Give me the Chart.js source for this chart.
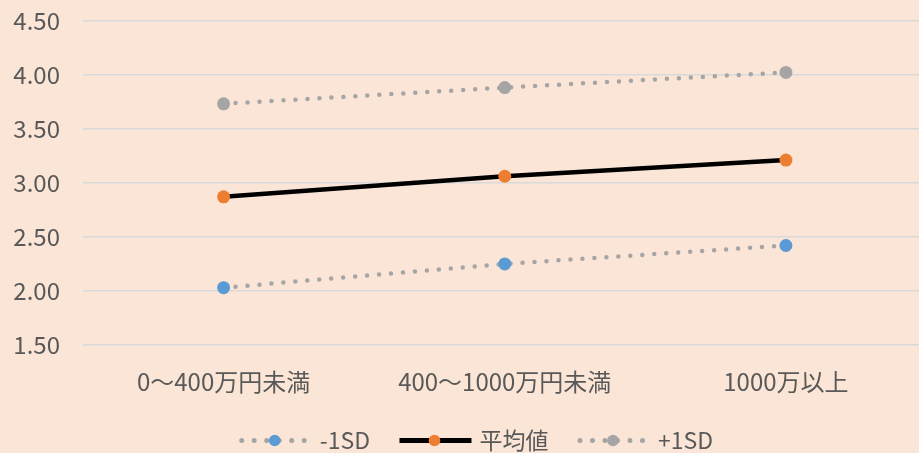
<!DOCTYPE html>
<html>
<head>
<meta charset="utf-8">
<script src="https://cdn.jsdelivr.net/npm/chart.js@4"></script>
<style>
  html, body { margin: 0; padding: 0; background: #FBE5D6; overflow: hidden; }
  #wrap { width: 933px; height: 453px; position: relative; }
  canvas { display: block; }
</style>
</head>
<body>
<div id="wrap"><canvas id="c" width="933" height="453"></canvas></div>
<script>
// Income brackets and score per bracket (mean and ±1 standard deviation)
const categories = ['0〜400万円未満', '400〜1000万円未満', '1000万以上'];
const minus1SD = [2.03, 2.25, 2.42];
const average  = [2.87, 3.06, 3.21];
const plus1SD  = [3.73, 3.88, 4.02];
const seriesNames = ['-1SD', '平均値', '+1SD'];
const yMin = 1.5, yMax = 4.5, yStep = 0.5;

const FONT = '"Noto Sans CJK JP", "Noto Sans", sans-serif';
const TEXT = '#595959';
const GRID = '#D9D9D9';
const DOT_GRAY = '#A5A5A5';

const dotted = { borderColor: DOT_GRAY, borderWidth: 4.5, borderDash: [0, 12], borderCapStyle: 'round' };

const datasets = [
  Object.assign({ label: seriesNames[0], data: minus1SD,
    pointBackgroundColor: '#5B9BD5', pointBorderColor: '#5B9BD5' }, dotted),
  { label: seriesNames[1], data: average, borderColor: '#000000', borderWidth: 4.5,
    borderCapStyle: 'butt', pointBackgroundColor: '#ED7D31', pointBorderColor: '#ED7D31' },
  Object.assign({ label: seriesNames[2], data: plus1SD,
    pointBackgroundColor: DOT_GRAY, pointBorderColor: DOT_GRAY }, dotted)
];
datasets.forEach(d => { d.pointRadius = 6.5; d.pointBorderWidth = 0; d.tension = 0; d.fill = false; });

// Category labels under the plot and the legend row at the bottom
const bottomText = {
  id: 'bottomText',
  afterDraw(chart) {
    const ctx = chart.ctx;
    const xs = chart.scales.x;
    ctx.save();
    ctx.fillStyle = TEXT;
    ctx.font = '24px ' + FONT;
    ctx.textAlign = 'center';
    ctx.textBaseline = 'middle';
    categories.forEach((c, i) => ctx.fillText(c, xs.getPixelForValue(i), 382));

    // legend
    const ly = 440.5;
    let sx = 239.7;
    ctx.font = '23px ' + FONT;
    ctx.textAlign = 'left';
    chart.data.datasets.forEach(ds => {
      ctx.save();
      ctx.strokeStyle = ds.borderColor;
      ctx.beginPath();
      if (ds.borderDash) {
        ctx.setLineDash([0, 12.5]);
        ctx.lineCap = 'round';
        ctx.lineWidth = 5;
        ctx.moveTo(sx + 2, ly);
        ctx.lineTo(sx + 65, ly);
      } else {
        ctx.lineCap = 'butt';
        ctx.lineWidth = 5;
        ctx.moveTo(sx, ly);
        ctx.lineTo(sx + 72, ly);
      }
      ctx.stroke();
      ctx.setLineDash([]);
      ctx.fillStyle = ds.pointBackgroundColor;
      ctx.beginPath();
      ctx.arc(sx + 35, ly, 5.8, 0, Math.PI * 2);
      ctx.fill();
      ctx.restore();
      const tx = sx + 80;
      ctx.fillText(ds.label, tx, ly);
      sx = tx + ctx.measureText(ds.label).width + 29.5;
    });
    ctx.restore();
  }
};

new Chart(document.getElementById('c'), {
  type: 'line',
  data: { labels: categories, datasets },
  options: {
    responsive: false,
    animation: false,
    devicePixelRatio: 1,
    layout: { padding: { top: 20.5, bottom: 108, left: 0, right: 0 } },
    plugins: { legend: { display: false }, tooltip: { enabled: false } },
    scales: {
      x: {
        type: 'category',
        offset: true,
        grid: { display: false, drawTicks: false },
        border: { display: false },
        ticks: { display: false }
      },
      y: {
        min: yMin, max: yMax,
        afterFit(scale) {
          scale.width = 83;
          scale.paddingTop = 0;
          scale.paddingBottom = 0;
        },
        ticks: {
          stepSize: yStep,
          padding: 23,
          color: TEXT,
          font: { family: FONT, size: 24 },
          callback: v => Number(v).toFixed(2)
        },
        grid: { color: GRID, lineWidth: 1.5, drawTicks: false },
        border: { display: false }
      }
    }
  },
  plugins: [bottomText]
});
</script>
</body>
</html>
